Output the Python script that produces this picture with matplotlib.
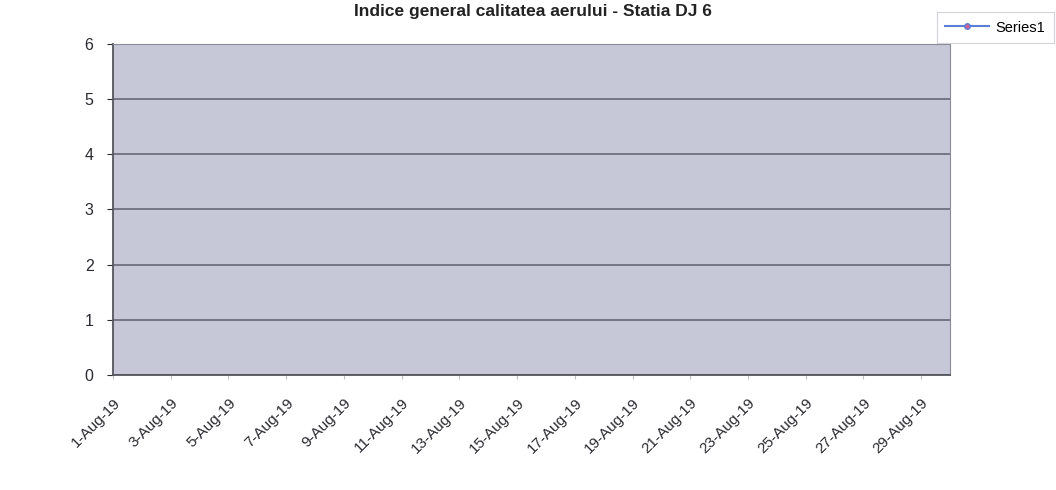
import matplotlib.pyplot as plt
from matplotlib.lines import Line2D

# categories: one per day, 1-30 Aug 2019
days = ['1-Aug-19', '2-Aug-19', '3-Aug-19', '4-Aug-19', '5-Aug-19', '6-Aug-19',
        '7-Aug-19', '8-Aug-19', '9-Aug-19', '10-Aug-19', '11-Aug-19', '12-Aug-19',
        '13-Aug-19', '14-Aug-19', '15-Aug-19', '16-Aug-19', '17-Aug-19', '18-Aug-19',
        '19-Aug-19', '20-Aug-19', '21-Aug-19', '22-Aug-19', '23-Aug-19', '24-Aug-19',
        '25-Aug-19', '26-Aug-19', '27-Aug-19', '28-Aug-19', '29-Aug-19', '30-Aug-19']
# no data points visible in the scan
series1 = []
y_ticks = [0, 1, 2, 3, 4, 5, 6]

plt.rcParams['font.family'] = ['Liberation Sans', 'DejaVu Sans']

fig = plt.figure(figsize=(10.56, 4.9), dpi=100)
ax = fig.add_axes([0.107, 0.235, 0.7926, 0.675])
ax.set_facecolor('#c6c8d7')

x = list(range(len(days)))
ax.plot(x[:len(series1)], series1, color='#3a6fd0', marker='o', markersize=4,
        markerfacecolor='#e05c9a', label='Series1')

ax.set_xlim(0, len(days) - 1)
ax.set_ylim(0, 6)
ax.set_yticks(y_ticks)
ax.yaxis.grid(True, color='#60606e', linewidth=1.1)
ax.set_axisbelow(True)

ax.set_xticks(x[::2])
ax.set_xticklabels(days[::2], rotation=45, ha='right', rotation_mode='anchor',
                   fontsize=11, color='#2a2a30')
ax.tick_params(axis='y', labelsize=11.5, colors='#2a2a30', length=4, pad=10)
ax.tick_params(axis='x', length=3, color='#c0c0c8', pad=12)

for side in ['top', 'right']:
    ax.spines[side].set_color('#8a8a98')
for side in ['left', 'bottom']:
    ax.spines[side].set_color('#55555f')
    ax.spines[side].set_linewidth(1.3)

fig.text(0.505, 0.977, 'Indice general calitatea aerului - Statia DJ 6',
         ha='center', va='center', fontsize=12.5, fontweight='bold', color='#222222')

handle = Line2D([], [], color='#5b7fd6', marker='o', markersize=4,
                markerfacecolor='#d06090', markeredgecolor='#5b7fd6', linewidth=1.5)
leg = fig.legend([handle], ['Series1'], loc='upper left',
                 bbox_to_anchor=(0.887, 0.976), borderaxespad=0, fontsize=10.5,
                 frameon=True, fancybox=False, edgecolor='#c8c8d0', borderpad=0.6,
                 handlelength=3.0, handletextpad=0.4)
leg.get_frame().set_linewidth(0.8)

plt.savefig('out.png', dpi=100)
